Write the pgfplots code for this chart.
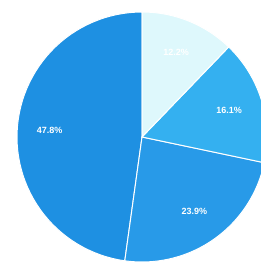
\documentclass[border=0pt]{standalone}
\usepackage{pgfplots}
\pgfplotsset{compat=1.18}
\usepackage{fontspec}
\setmainfont{Liberation Sans}
\definecolor{cA}{RGB}{30,144,226}
\definecolor{cB}{RGB}{40,154,232}
\definecolor{cC}{RGB}{52,176,240}
\definecolor{cD}{RGB}{222,248,252}
\tikzset{lbl/.style={font=\bfseries\fontsize{9}{10}\selectfont, text=white}}
\begin{document}
\begin{tikzpicture}[x=1pt,y=1pt]
\begin{axis}[
  at={(142pt,125pt)}, anchor=center,
  width=250pt, height=250pt, scale only axis,
  axis equal image, hide axis,
  xmin=-1, xmax=1, ymin=-1, ymax=1,
  clip=false,
]
% slices: 47.8%, 23.9%, 16.1%, 12.2%  (start at 90 deg, counter-clockwise)
\addplot[draw=white, line width=1pt, fill=cA, domain=90:262.08, samples=60]
  ({cos(x)},{sin(x)}) -- (axis cs:0,0) -- cycle;
\addplot[draw=white, line width=1pt, fill=cB, domain=262.08:348.12, samples=40]
  ({cos(x)},{sin(x)}) -- (axis cs:0,0) -- cycle;
\addplot[draw=white, line width=1pt, fill=cC, domain=348.12:406.08, samples=30]
  ({cos(x)},{sin(x)}) -- (axis cs:0,0) -- cycle;
\addplot[draw=white, line width=1pt, fill=cD, domain=406.08:450, samples=30]
  ({cos(x)},{sin(x)}) -- (axis cs:0,0) -- cycle;
\node[lbl] at (axis cs:{0.74*cos(176.04)},{0.74*sin(176.04)}) {47.8\%};
\node[lbl] at (axis cs:{0.73*cos(305.1)},{0.73*sin(305.1)}) {23.9\%};
\node[lbl] at (axis cs:{0.73*cos(377.1)},{0.73*sin(377.1)}) {16.1\%};
\node[lbl] at (axis cs:{0.73*cos(428)},{0.73*sin(428)}) {12.2\%};
\end{axis}
\pgfresetboundingbox
\path[use as bounding box] (0,0) rectangle (261,262);
\end{tikzpicture}
\end{document}
